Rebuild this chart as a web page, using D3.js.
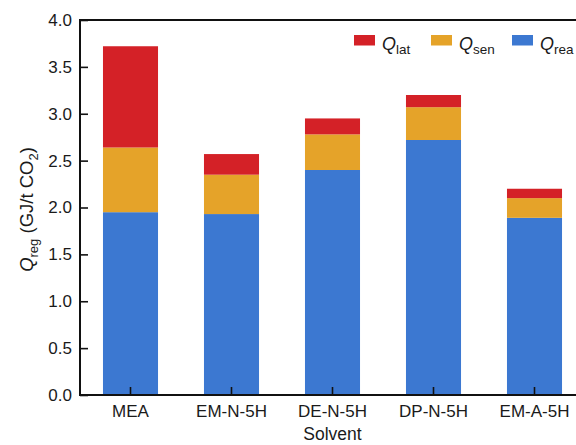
<!DOCTYPE html>
<html>
<head>
<meta charset="utf-8">
<script src="https://cdn.jsdelivr.net/npm/d3@7"></script>
<style>
  html, body { margin: 0; padding: 0; background: #fff; }
  svg { display: block; font-family: "Liberation Sans", Arial, Helvetica, sans-serif; }
</style>
</head>
<body>
<svg id="chart" width="576" height="445"></svg>
<script>
// Regeneration energy breakdown per solvent (GJ/t CO2)
const categories = ["MEA", "EM-N-5H", "DE-N-5H", "DP-N-5H", "EM-A-5H"];
const qRea = [1.95, 1.93, 2.40, 2.72, 1.89];
const qSen = [0.69, 0.42, 0.38, 0.35, 0.21];
const qLat = [1.08, 0.22, 0.17, 0.13, 0.10];
const yTicks = [0, 0.5, 1.0, 1.5, 2.0, 2.5, 3.0, 3.5, 4.0];

const seriesKeys = ["rea", "sen", "lat"];
const colors = { rea: "#3c78d1", sen: "#e5a329", lat: "#d42127" };
const legendItems = [
  { key: "lat", sub: "lat" },
  { key: "sen", sub: "sen" },
  { key: "rea", sub: "rea" }
];

const rows = categories.map((c, i) => ({ cat: c, rea: qRea[i], sen: qSen[i], lat: qLat[i] }));
const stacked = d3.stack().keys(seriesKeys)(rows);

const svg = d3.select("#chart");
const plot = { left: 80, right: 585, top: 20, bottom: 395 };

const x = d3.scaleBand()
  .domain(categories)
  .range([plot.left, plot.right])
  .paddingInner(0.455)
  .paddingOuter(0.2275);

const y = d3.scaleLinear().domain([0, 4]).range([plot.bottom, plot.top]);

// stacked bars
svg.append("g")
  .selectAll("g")
  .data(stacked)
  .join("g")
  .attr("fill", d => colors[d.key])
  .selectAll("rect")
  .data(d => d)
  .join("rect")
  .attr("x", d => x(d.data.cat))
  .attr("width", x.bandwidth())
  .attr("y", d => y(d[1]))
  .attr("height", d => y(d[0]) - y(d[1]));

// axes with inward ticks
const yAxis = svg.append("g")
  .attr("transform", `translate(${plot.left},0)`)
  .call(d3.axisLeft(y).tickValues(yTicks).tickFormat(d3.format(".1f"))
    .tickSizeInner(-8).tickSizeOuter(0).tickPadding(8));

const xAxis = svg.append("g")
  .attr("transform", `translate(0,${plot.bottom})`)
  .call(d3.axisBottom(x).tickSizeInner(-8).tickSizeOuter(0).tickPadding(10));

[yAxis, xAxis].forEach(g => {
  g.select(".domain").remove();
  g.selectAll(".tick line").attr("stroke", "#111").attr("stroke-width", 1.6);
  g.selectAll(".tick text")
    .attr("fill", "#1a1a1a")
    .style("font-size", "17px")
    .style("font-family", "'Liberation Sans', Arial, sans-serif");
});

// frame
svg.append("rect")
  .attr("x", plot.left).attr("y", plot.top)
  .attr("width", plot.right - plot.left).attr("height", plot.bottom - plot.top)
  .attr("fill", "none").attr("stroke", "#111").attr("stroke-width", 2);

// axis titles
svg.append("text")
  .attr("x", (plot.left + plot.right) / 2)
  .attr("y", 440)
  .attr("text-anchor", "middle")
  .attr("fill", "#1a1a1a")
  .style("font-size", "17.5px")
  .text("Solvent");

const yLabel = svg.append("text")
  .attr("transform", `translate(33,${(plot.top + plot.bottom) / 2 + 2}) rotate(-90)`)
  .attr("text-anchor", "middle")
  .attr("fill", "#1a1a1a")
  .style("font-size", "18.5px");
yLabel.append("tspan").style("font-style", "italic").text("Q");
yLabel.append("tspan").attr("dy", 5).style("font-size", "13px").text("reg");
yLabel.append("tspan").attr("dy", -5).text(" (GJ/t CO");
yLabel.append("tspan").attr("dy", 5).style("font-size", "13px").text("2");
yLabel.append("tspan").attr("dy", -5).text(")");

// legend
const legendX = [354, 431, 512];
const legend = svg.append("g")
  .selectAll("g")
  .data(legendItems)
  .join("g")
  .attr("transform", (d, i) => `translate(${legendX[i]},35)`);

legend.append("rect")
  .attr("width", 21).attr("height", 10.5)
  .attr("fill", d => colors[d.key]);

const lt = legend.append("text")
  .attr("x", 28).attr("y", 15)
  .attr("fill", "#1a1a1a")
  .style("font-size", "18px");
lt.append("tspan").style("font-style", "italic").text("Q");
lt.append("tspan").attr("dy", 4).style("font-size", "13.5px").text(d => d.sub);
</script>
</body>
</html>
